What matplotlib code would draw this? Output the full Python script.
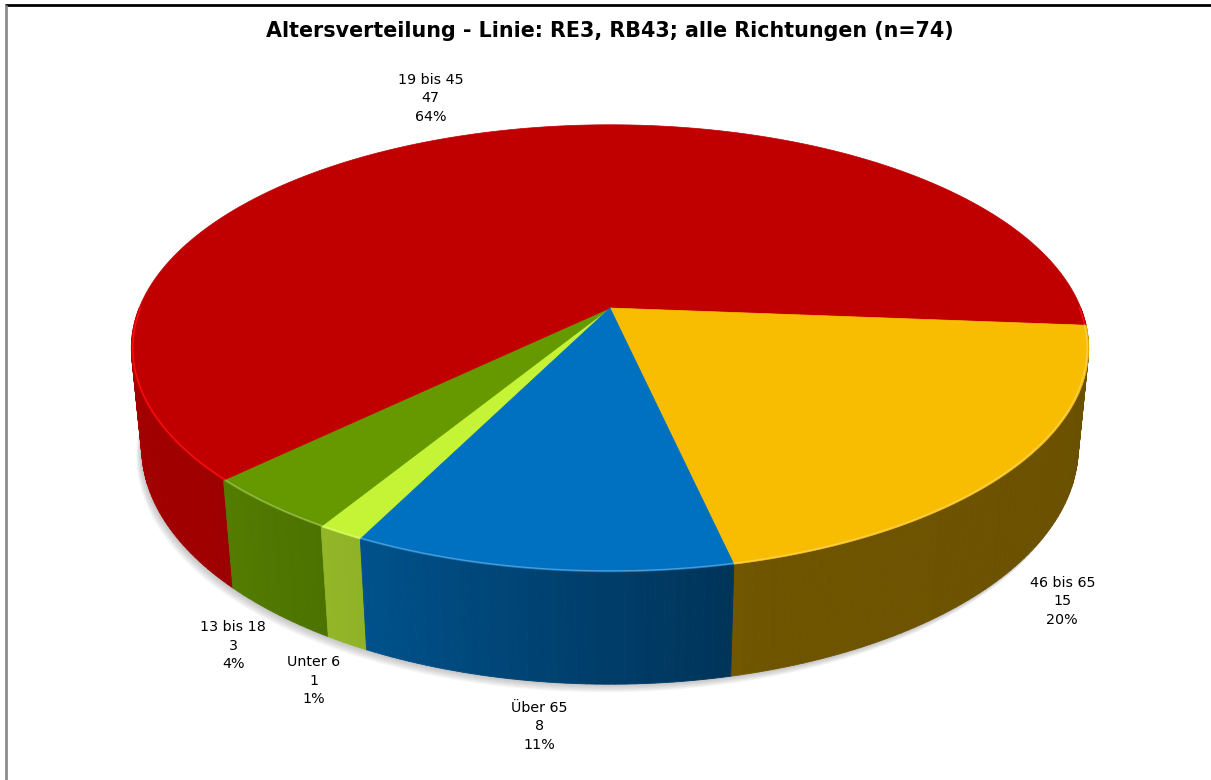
import numpy as np
import matplotlib
matplotlib.use("Agg")
import matplotlib.pyplot as plt
from matplotlib.patches import Polygon
from matplotlib.collections import PolyCollection
from matplotlib.colors import to_rgb

# Daten
categories = ["Unter 6", "13 bis 18", "19 bis 45", "46 bis 65", "Über 65"]
values = [1, 3, 47, 15, 8]
top_colors = ["#C5F436", "#669900", "#C00000", "#F8BC00", "#0070C0"]
title = "Altersverteilung - Linie: RE3, RB43; alle Richtungen (n=74)"

# Perspektive der 3D-Torte (Pixelkoordinaten)
CX, CY = 610, 308          # Bildposition der Tortenmitte
D = 4.945                  # Abstand Kamera
PHI = np.radians(26.9)     # Neigung
F = 2363.7                 # Brennweite in Pixeln
FX = 0.985 * F             # etwas schmaler in x
H = 0.235                  # Höhe der Torte
START = 206.4              # Startwinkel des ersten Stücks (Grad, im Uhrzeigersinn von hinten)


def proj(x, y, z):
    """Projiziert Weltpunkte (x rechts, y nach hinten, z oben) auf Pixel."""
    ry = y + D * np.cos(PHI)
    rz = z - D * np.sin(PHI)
    yc = ry * np.sin(PHI) + rz * np.cos(PHI)
    zc = ry * np.cos(PHI) - rz * np.sin(PHI)
    return CX + FX * x / zc, CY - F * yc / zc


def ring(cw, r=1.0, z=0.0):
    th = np.radians(90 - np.asarray(cw, dtype=float))
    return proj(r * np.cos(th), r * np.sin(th), z)


def shade(cw):
    th = 90 - cw
    return np.interp(th, [-180, -140, -115, -95, -75, 0],
                     [0.86, 0.83, 0.72, 0.58, 0.45, 0.42])


total = sum(values)
spans = [v / total * 360 for v in values]
starts = START + np.concatenate([[0], np.cumsum(spans)[:-1]])

fig = plt.figure(figsize=(12.11, 7.8), dpi=100)
ax = fig.add_axes([0, 0, 1, 1])
ax.set_xlim(0, 1211)
ax.set_ylim(780, 0)
ax.axis("off")

# Rahmen
ax.plot([5, 1211], [4.5, 4.5], color="black", lw=2, solid_capstyle="butt")
ax.plot([6, 6], [5, 780], color="#8C8C8C", lw=2, solid_capstyle="butt")

# Schatten unter der Torte
full = np.linspace(0, 360, 361)
bx, by = ring(full, 1.0, -H)
for k in range(1, 10):
    ax.add_patch(Polygon(np.column_stack([bx - 0.6 * k, by + k * 0.9]), closed=True,
                         facecolor="#707070", edgecolor="none", alpha=0.05, zorder=1))

# Seitenflächen (vorne sichtbar)
quads, cols, depth = [], [], []
for a, s, c in zip(starts, spans, top_colors):
    b = a + s
    rgb = np.array(to_rgb(c))
    for lo, hi in [(90, 270), (450, 630)]:
        u, v = max(a, lo), min(b, hi)
        if v <= u:
            continue
        n = max(2, int(np.ceil(v - u)) + 1)
        edges = np.linspace(u, v, n)
        for e1, e2 in zip(edges[:-1], edges[1:]):
            x1, y1 = ring(e1, 1.0, 0)
            x2, y2 = ring(e2, 1.0, 0)
            x3, y3 = ring(e2, 1.0, -H)
            x4, y4 = ring(e1, 1.0, -H)
            quads.append([(x1, y1), (x2, y2), (x3, y3), (x4, y4)])
            m = 0.5 * (e1 + e2)
            cols.append(tuple(np.clip(rgb * shade(m % 360), 0, 1)))
            depth.append(np.sin(np.radians(90 - m)))
order = np.argsort(depth)[::-1]
ax.add_collection(PolyCollection([quads[i] for i in order],
                                 facecolors=[cols[i] for i in order],
                                 edgecolors=[cols[i] for i in order],
                                 linewidths=0.6, zorder=2))

# Deckfläche
ax0, ay0 = proj(0, 0, 0)
for a, s, c in zip(starts, spans, top_colors):
    arc = np.linspace(a, a + s, max(3, int(s * 2)))
    px, py = ring(arc, 1.0, 0)
    pts = np.vstack([[ax0, ay0], np.column_stack([px, py])])
    ax.add_patch(Polygon(pts, closed=True, facecolor=c, edgecolor=c, lw=0.5, zorder=3))
    # heller Rand vorne
    rgb = np.array(to_rgb(c))
    if c == "#C00000":
        light = np.array([1.0, 0.05, 0.05])
    else:
        light = rgb * 0.7 + 0.3
    for lo, hi in [(90, 270), (450, 630)]:
        u, v = max(a, lo), min(a + s, hi)
        if v <= u:
            continue
        rim = np.linspace(u, v, max(3, int((v - u) * 2)))
        rx, ry = ring(rim, 0.997, 0)
        ax.plot(rx, ry, color=np.clip(light, 0, 1), lw=1.0, zorder=4)

# Beschriftungen
for a, s, cat, v in zip(starts, spans, categories, values):
    mid = a + s / 2
    th = np.radians(90 - mid)
    if np.sin(th) < 0:
        lx, ly = proj(1.13 * np.cos(th), 1.13 * np.sin(th), -H)
        if np.cos(th) < 0:
            lx += 8
    else:
        lx, ly = proj(1.25 * np.cos(th), 1.25 * np.sin(th), 0)
        lx -= 15
    pct = round(v / total * 100)
    ax.text(lx, ly, f"{cat}\n{v}\n{pct}%", ha="center", va="center",
            fontsize=10.3, linespacing=1.4, color="black", zorder=5)

ax.text(610, 31, title, ha="center", va="center", fontsize=14.9,
        fontweight="bold", color="black")

fig.savefig("out.png", dpi=100)
